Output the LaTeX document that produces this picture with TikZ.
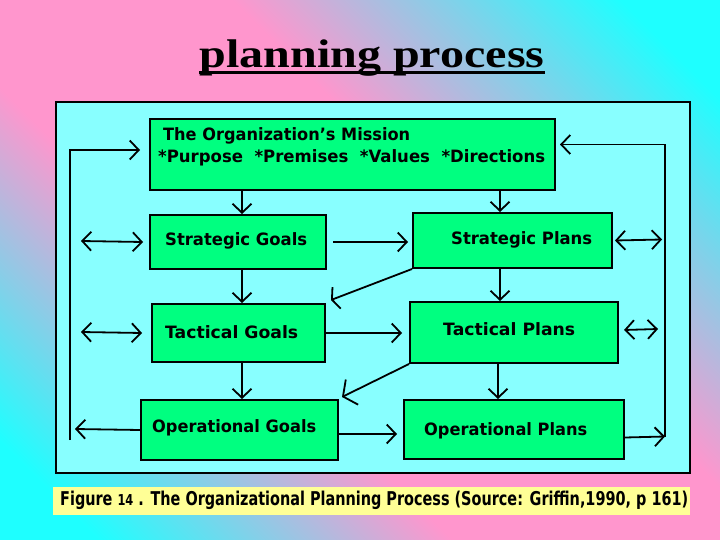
\documentclass[tikz,border=0pt]{standalone}
\usepackage{graphicx}
\usepackage{fontspec}
\setmainfont{DejaVu Sans}
\newfontfamily\titlefont{Liberation Serif}
\usetikzlibrary{arrows.meta}
\definecolor{bgpink}{RGB}{255,150,205}
\definecolor{bgcyan}{RGB}{30,255,255}
\definecolor{panelcyan}{RGB}{136,255,255}
\definecolor{boxgreen}{RGB}{0,255,128}
\definecolor{capyellow}{RGB}{255,255,150}
\pgfdeclareverticalshading{bgshade}{100bp}{color(0bp)=(bgcyan); color(20bp)=(bgcyan); color(40bp)=(bgpink); color(58bp)=(bgpink); color(80bp)=(bgcyan); color(100bp)=(bgcyan)}
\newcommand{\fitw}[2]{\resizebox{#1}{\height}{#2}}
\begin{document}
\begin{tikzpicture}[x=1pt,y=-1pt,
  box/.style={draw=black, line width=2pt, fill=boxgreen, inner sep=0pt, anchor=north west},
  lbl/.style={anchor=mid west, inner sep=0pt, font=\fontsize{17}{20}\selectfont\bfseries},
  arw/.style={line width=1.8pt, -{Straight Barb[length=9pt,width=19pt]}},
  dbl/.style={line width=1.8pt, {Straight Barb[length=9pt,width=19pt]}-{Straight Barb[length=9pt,width=19pt]}},
  diagA/.style={line width=1.8pt, -{Straight Barb[length=5pt,width=23pt]}},
  diagB/.style={line width=1.8pt, -{Straight Barb[length=10pt,width=28pt]}}]
\useasboundingbox (0,0) rectangle (720,540);
\shade[shading=bgshade, shading angle=-45] (0,0) rectangle (720,540);
% title
\node[anchor=base, inner sep=0pt, font=\titlefont\fontsize{40}{44}\selectfont\bfseries] (title) at (372,68) {\fitw{345pt}{planning process}};
\draw[line width=3pt] ([yshift=-5pt]title.base west) -- ([yshift=-5pt]title.base east);
% panel and caption
\node[draw=black, line width=2pt, fill=panelcyan, anchor=north west, minimum width=634pt, minimum height=371pt, inner sep=0pt] (panel) at (55,101) {};
\node[fill=capyellow, anchor=north west, minimum width=637pt, minimum height=28pt, inner sep=0pt] (capbox) at (53,487) {};
\node[anchor=mid west, inner sep=0pt, font=\fontsize{19}{21}\selectfont\bfseries] (cap) at (60,503) {\fitw{628pt}{Figure {\fontsize{15}{16}\selectfont 14} . The Organizational Planning Process (Source: Griffin,1990, p 161)}};
% boxes
\node[box, minimum width=405pt, minimum height=71pt] (mis) at (149,118) {};
\node[box, minimum width=176pt, minimum height=54pt] (sg) at (149,214) {};
\node[box, minimum width=199pt, minimum height=55pt] (sp) at (412,212) {};
\node[box, minimum width=173pt, minimum height=58pt] (tg) at (151,303) {};
\node[box, minimum width=208pt, minimum height=61pt] (tp) at (409,301) {};
\node[box, minimum width=197pt, minimum height=60pt] (og) at (140,399) {};
\node[box, minimum width=220pt, minimum height=59pt] (op) at (403,399) {};
% texts
\node[lbl] (t1) at (163,138) {\fitw{247pt}{The Organization's Mission}};
\node[lbl] (t2) at (158,160) {\fitw{387pt}{*Purpose\ \ *Premises\ \ *Values\ \ *Directions}};
\node[lbl] (tsg) at (165,243) {\fitw{142pt}{Strategic Goals}};
\node[lbl] (tsp) at (451,242) {\fitw{141pt}{Strategic Plans}};
\node[lbl] (ttg) at (165,336) {\fitw{133pt}{Tactical Goals}};
\node[lbl] (ttp) at (443,333) {\fitw{132pt}{Tactical Plans}};
\node[lbl] (tog) at (152,430) {\fitw{164pt}{Operational Goals}};
\node[lbl] (top) at (424,433) {\fitw{163pt}{Operational Plans}};
% free ends
\coordinate (lA) at (75,429);
\coordinate (lB) at (70,440);
\coordinate (rA) at (665,436.5);
\coordinate (sgL) at (81,241);
\coordinate (tgL) at (81,332);
\coordinate (spR) at (662,239.5);
\coordinate (tpR) at (658,329);
\coordinate (ogE) at ([yshift=-4pt]og.east);
\coordinate (opE) at ([yshift=-8pt]op.east);
% vertical arrows
\draw[arw] ([xshift=4pt]sg.north |- mis.south) -- ([xshift=4pt]sg.north);
\draw[arw] ([xshift=-12.5pt]sp.north |- mis.south) -- ([xshift=-12.5pt]sp.north);
\draw[arw] ([xshift=4pt]sg.south) -- ([xshift=4pt]sg.south |- tg.north);
\draw[arw] ([xshift=-12.5pt]sp.south) -- ([xshift=-12.5pt]sp.south |- tp.north);
\draw[arw] ([xshift=3.5pt]tg.south) -- ([xshift=3.5pt]tg.south |- og.north);
\draw[arw] ([xshift=-16pt]tp.south) -- ([xshift=-16pt]tp.south |- op.north);
% horizontal arrows
\draw[arw] ([xshift=6pt]sg.east) -- ([xshift=-4pt]sp.west |- sg.east);
\draw[arw] (tg.east) -- ([xshift=-7pt]tp.west |- tg.east);
\draw[arw] (ogE) -- ([xshift=-6pt]op.west |- ogE);
% diagonals
\draw[diagA] (sp.south west) -- ([xshift=5pt,yshift=3pt]tg.north east);
\draw[diagB] (tp.south west) -- ([xshift=3pt,yshift=2pt]og.north east);
% feedback loops
\draw[arw] (og.west) -- (lA);
\draw[arw] (lB) |- ([xshift=-9pt,yshift=4.5pt]mis.west);
\draw[arw] (opE) -- (rA);
\draw[arw] (rA) |- ([xshift=4pt,yshift=10pt]mis.east);
% double arrows
\draw[dbl] (sgL) -- ([xshift=-6pt]sg.west);
\draw[dbl] (tgL) -- ([xshift=-9pt]tg.west);
\draw[dbl] ([xshift=2pt]sp.east) -- (spR);
\draw[dbl] ([xshift=5pt,yshift=2.5pt]tp.east) -- (tpR);
\end{tikzpicture}
\end{document}
